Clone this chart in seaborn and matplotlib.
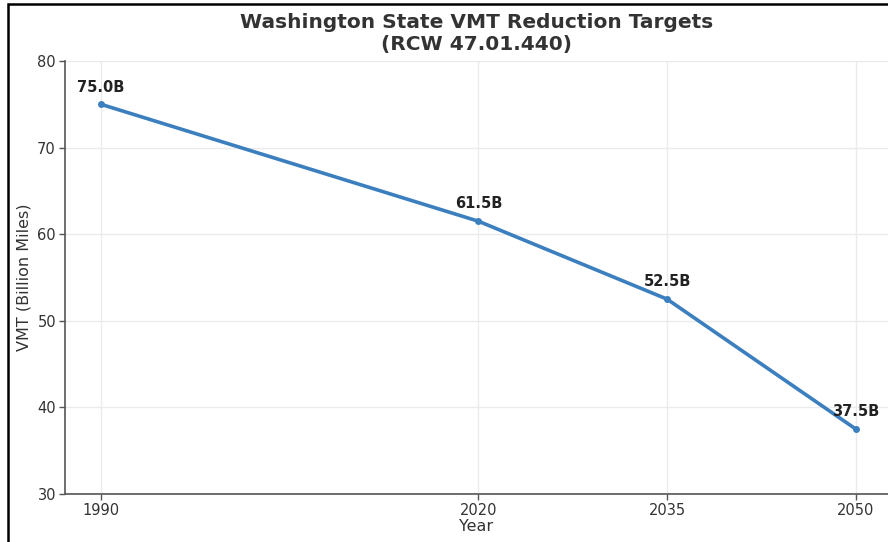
import matplotlib
matplotlib.use("Agg")
import matplotlib.pyplot as plt
import seaborn as sns
import pandas as pd
from matplotlib.patches import Rectangle

years = [1990, 2020, 2035, 2050]
vmt = [75.0, 61.5, 52.5, 37.5]
point_labels = ["75.0B", "61.5B", "52.5B", "37.5B"]
title = "Washington State VMT Reduction Targets\n(RCW 47.01.440)"
xlabel = "Year"
ylabel = "VMT (Billion Miles)"

sns.set_theme(style="whitegrid")
plt.rcParams["font.family"] = ["DejaVu Sans"]

df = pd.DataFrame({"Year": years, "VMT": vmt})

fig = plt.figure(figsize=(8.88, 5.42), dpi=100)
ax = fig.add_axes([65/888, 48/542, 823/888, 433/542])

sns.lineplot(data=df, x="Year", y="VMT", ax=ax, color="#3b7fbf", linewidth=2.6,
             marker="o", markersize=5, markeredgewidth=0)

for x, y, t in zip(years, vmt, point_labels):
    ax.annotate(t, (x, y), xytext=(0, 7), textcoords="offset points",
                ha="center", va="bottom", fontsize=10.5, fontweight="bold", color="#222222")

ax.set_xlim(1987.14, 2052.56)
ax.set_ylim(30, 80)
ax.set_xticks(years)
ax.set_yticks([30, 40, 50, 60, 70, 80])
ax.grid(True, color="#ebebeb", linewidth=1)
for s in ["top", "right"]:
    ax.spines[s].set_visible(False)
for s in ["left", "bottom"]:
    ax.spines[s].set_visible(True)
    ax.spines[s].set_color("#555555")
    ax.spines[s].set_linewidth(1.2)
ax.tick_params(axis="both", which="both", direction="out", length=4, width=1, pad=2.5,
               color="#555555", labelsize=10.5, labelcolor="#333333", bottom=True, left=True)
ax.set_xlabel(xlabel, fontsize=11.5, color="#333333", labelpad=1)
ax.set_ylabel(ylabel, fontsize=11.5, color="#333333", labelpad=4)
ax.set_title(title, fontsize=14.5, fontweight="bold", color="#333333", pad=8, linespacing=1.2)

fig.patches.append(Rectangle((8/888, -0.1), 1.2, (542-4)/542 + 0.1, transform=fig.transFigure,
                             fill=False, edgecolor="black", linewidth=1.8, zorder=10))

fig.savefig("out.png", dpi=100)
